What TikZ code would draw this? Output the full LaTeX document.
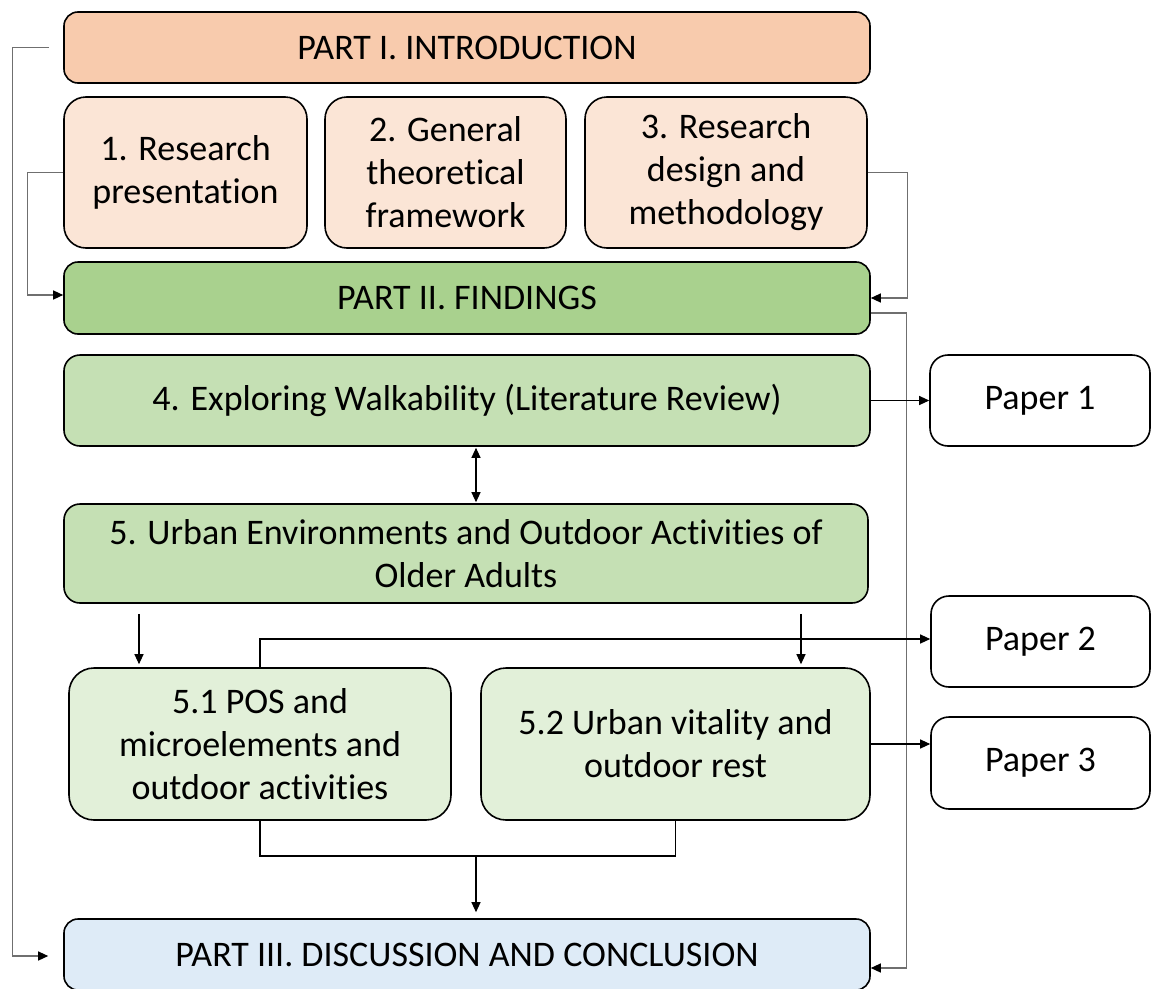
\documentclass[tikz,border=0pt]{standalone}
\usepackage{fontspec}
\setmainfont{Carlito}[Ligatures=NoCommon]
\usetikzlibrary{arrows.meta,calc}

\definecolor{introdark}{HTML}{F8CBAD}
\definecolor{introlight}{HTML}{FBE5D6}
\definecolor{finddark}{HTML}{A9D18E}
\definecolor{findmid}{HTML}{C5E0B4}
\definecolor{findlight}{HTML}{E2F0D9}
\definecolor{discblue}{HTML}{DEEBF7}
\definecolor{routegray}{HTML}{6F6F6F}

\tikzset{
  box/.style={draw=black, line width=1.6pt, inner sep=0pt, align=center,
    font=\fontsize{36}{43}\selectfont},
  tip/.style={-{Triangle[length=10pt,width=9pt,color=black]}},
  arr/.style={line width=1.1pt, tip},
  darr/.style={line width=1.1pt, {Triangle[length=10pt,width=9pt]}-{Triangle[length=10pt,width=9pt]}},
  route/.style={draw=routegray, line width=1.3pt},
  routearr/.style={route, tip},
}

\begin{document}
\begin{tikzpicture}[x=1pt,y=-1pt]
\useasboundingbox (0,0) rectangle (1151,988);

% Part I and its chapters
\node[box, fill=introdark, rounded corners=14pt, minimum width=806pt, minimum height=71pt]
  (p1) at (467,47.5) {PART I. INTRODUCTION};
\node[box, fill=introlight, rounded corners=22pt, minimum width=243pt, minimum height=151pt]
  (b1) at (185.5,172.5) {1. Research\\presentation};
\node[box, fill=introlight, rounded corners=22pt, minimum width=241pt, minimum height=151pt]
  (b2) at (445.5,172.5) {2. General\\theoretical\\framework};
\node[box, fill=introlight, rounded corners=22pt, minimum width=282pt, minimum height=151pt]
  (b3) at (726,172.5) {3. Research\\design and\\methodology};

% Part II and its chapters
\node[box, fill=finddark, rounded corners=14pt, minimum width=806pt, minimum height=72pt]
  (p2) at (467,298) {PART II. FINDINGS};
\node[box, fill=findmid, rounded corners=16pt, minimum width=806pt, minimum height=91pt]
  (b4) at (467,400.5) {4. Exploring Walkability (Literature Review)};
\node[box, fill=findmid, rounded corners=16pt, minimum width=804pt, minimum height=99pt]
  (b5) at (466,553.5) {5. Urban Environments and Outdoor Activities of\\Older Adults};
\node[box, fill=findlight, rounded corners=25pt, minimum width=382pt, minimum height=152pt]
  (s51) at (260,744) {5.1 POS and\\microelements and\\outdoor activities};
\node[box, fill=findlight, rounded corners=25pt, minimum width=389pt, minimum height=152pt]
  (s52) at (675.5,744) {5.2 Urban vitality and\\outdoor rest};

% Part III
\node[box, fill=discblue, rounded corners=14pt, minimum width=806pt, minimum height=71pt]
  (p3) at (467,954.5) {PART III. DISCUSSION AND CONCLUSION};

% Publications
\node[box, fill=white, rounded corners=18pt, minimum width=220pt, minimum height=91pt]
  (pp1) at (1040,400.5) {Paper 1};
\node[box, fill=white, rounded corners=18pt, minimum width=219pt, minimum height=91pt]
  (pp2) at (1040.5,641.5) {Paper 2};
\node[box, fill=white, rounded corners=18pt, minimum width=219pt, minimum height=92pt]
  (pp3) at (1040.5,763) {Paper 3};

% Long routes on the left
\draw[routearr, shorten <=14pt, shorten >=15pt] (p1.west) -- ++(-51,0) |- ([yshift=-1.5pt]p3.west);
\draw[routearr] (b1.west) -- ++(-36,0) |- ([yshift=3pt]p2.west);

% Long routes on the right
\draw[routearr] (b3.east) -- ++(40,0) |- (p2.east);
\draw[routearr] ([yshift=-15pt]p2.east) -- ++(36,0) |- ([yshift=-13.5pt]p3.east);

% Findings flow
\draw[arr] (b4.east) -- (pp1.west);
\draw[darr, shorten <=1pt, shorten >=1pt] ([xshift=9pt]b4.south) -- ([xshift=10pt]b5.north);
\draw[arr, shorten <=10pt, shorten >=3pt] ([xshift=-327pt]b5.south) -- ([xshift=-121pt]s51.north);
\draw[arr, shorten <=10pt, shorten >=3pt] ([xshift=335pt]b5.south) -- ([xshift=125.5pt]s52.north);
\draw[arr] (s51.north) |- ([yshift=2.5pt]pp2.west);
\draw[arr] (s52.east) -- (s52.east -| pp3.west);

% Merge into Part III
\coordinate (m) at (476,856);
\draw[line width=1.1pt] (s51.south) |- (m) -| (s52.south);
\draw[arr, shorten >=6pt] (m) -- (m |- p3.north);
\end{tikzpicture}
\end{document}
